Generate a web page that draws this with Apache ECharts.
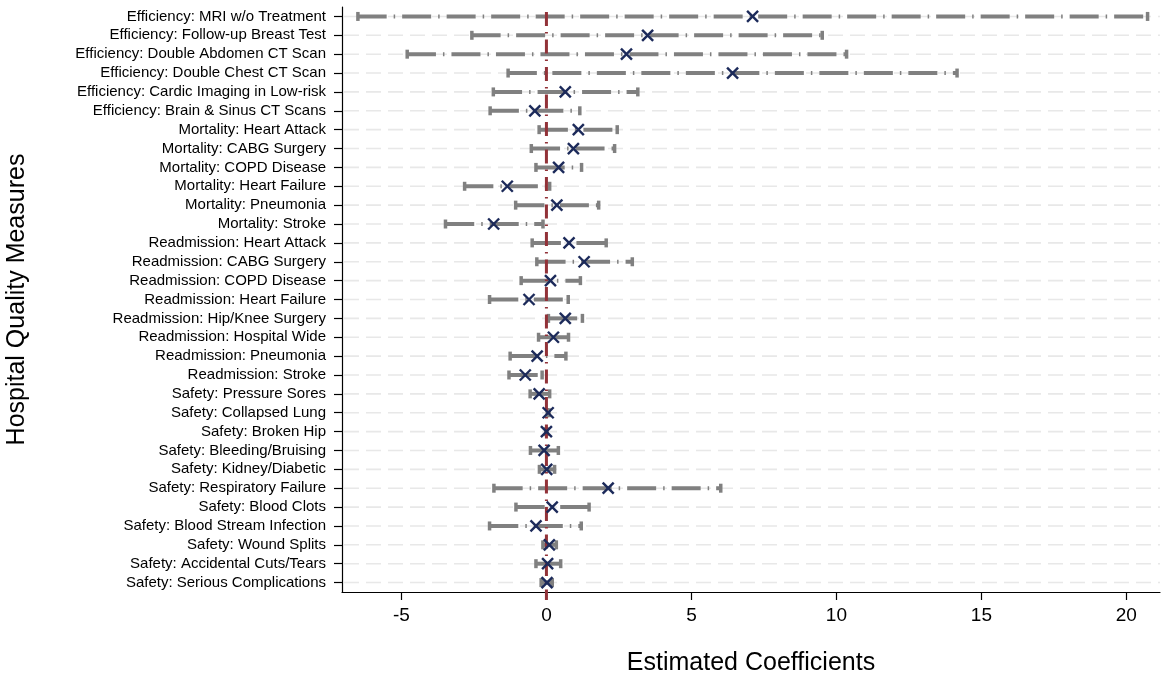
<!DOCTYPE html>
<html>
<head>
<meta charset="utf-8">
<script src="https://cdn.jsdelivr.net/npm/echarts@6/dist/echarts.min.js"></script>
<style>
html, body { margin: 0; padding: 0; background: #fff; }
#container { width: 1161px; height: 677px; }
</style>
</head>
<body>
<div id="container"></div>
<script>
var measures = [
    'Efficiency: MRI w/o Treatment',
    'Efficiency: Follow-up Breast Test',
    'Efficiency: Double Abdomen CT Scan',
    'Efficiency: Double Chest CT Scan',
    'Efficiency: Cardic Imaging in Low-risk',
    'Efficiency: Brain & Sinus CT Scans',
    'Mortality: Heart Attack',
    'Mortality: CABG Surgery',
    'Mortality: COPD Disease',
    'Mortality: Heart Failure',
    'Mortality: Pneumonia',
    'Mortality: Stroke',
    'Readmission: Heart Attack',
    'Readmission: CABG Surgery',
    'Readmission: COPD Disease',
    'Readmission: Heart Failure',
    'Readmission: Hip/Knee Surgery',
    'Readmission: Hospital Wide',
    'Readmission: Pneumonia',
    'Readmission: Stroke',
    'Safety: Pressure Sores',
    'Safety: Collapsed Lung',
    'Safety: Broken Hip',
    'Safety: Bleeding/Bruising',
    'Safety: Kidney/Diabetic',
    'Safety: Respiratory Failure',
    'Safety: Blood Clots',
    'Safety: Blood Stream Infection',
    'Safety: Wound Splits',
    'Safety: Accidental Cuts/Tears',
    'Safety: Serious Complications'
];
// point estimates
var coef = [7.11, 3.49, 2.76, 6.42, 0.65, -0.40, 1.10, 0.93, 0.42, -1.35, 0.36, -1.82,
    0.78, 1.30, 0.14, -0.60, 0.65, 0.24, -0.32, -0.73,
    -0.25, 0.06, 0.00, -0.08, 0.01, 2.13, 0.20, -0.36, 0.10, 0.04, 0.02];
// confidence interval ends
var lower = [-6.51, -2.58, -4.81, -1.33, -1.84, -1.95, -0.26, -0.53, -0.37, -2.83, -1.07, -3.49,
    -0.50, -0.34, -0.88, -1.97, 0.06, -0.28, -1.26, -1.30,
    -0.57, 0.02, -0.03, -0.56, -0.25, -1.82, -1.06, -1.97, -0.13, -0.37, -0.19];
var upper = [20.74, 9.52, 10.36, 14.17, 3.16, 1.16, 2.45, 2.36, 1.22, 0.12, 1.81, -0.11,
    2.07, 2.97, 1.18, 0.76, 1.25, 0.77, 0.68, -0.14,
    0.12, 0.10, 0.03, 0.42, 0.29, 6.02, 1.48, 1.21, 0.35, 0.50, 0.21];
var xTicks = [-5, 0, 5, 10, 15, 20];
var zeroRef = 0;

var font = 'Liberation Sans, Arial, sans-serif';
var rows = [];
measures.forEach(function (m, i) {
    rows.push([i, lower[i], coef[i], upper[i]]);
});

var dom = document.getElementById('container');
var myChart = echarts.init(dom);

var option = {
    animation: false,
    grid: { left: 342, right: 1, top: 7, bottom: 85, containLabel: false, outerBoundsMode: 'none' },
    xAxis: {
        type: 'value',
        min: -7.05,
        max: 21.16,
        axisLine: { show: true, onZero: false, lineStyle: { color: '#000', width: 1.2 } },
        axisTick: { show: true, customValues: xTicks, length: 8, lineStyle: { color: '#000', width: 1.2 } },
        axisLabel: { customValues: xTicks, color: '#000', fontSize: 19, fontFamily: font, margin: 14 },
        splitLine: { show: false },
        name: 'Estimated Coefficients',
        nameLocation: 'middle',
        nameGap: 59,
        nameTextStyle: { color: '#000', fontSize: 25, fontFamily: font }
    },
    yAxis: {
        type: 'category',
        data: measures,
        inverse: true,
        axisLine: { show: true, onZero: false, lineStyle: { color: '#000', width: 1.2 } },
        axisTick: { show: true, alignWithLabel: true, interval: 0, length: 8, lineStyle: { color: '#000', width: 1.2 } },
        axisLabel: { interval: 0, color: '#000', fontSize: 15, fontFamily: font, margin: 16 },
        splitLine: { show: false },
        name: 'Hospital Quality Measures',
        nameLocation: 'middle',
        nameGap: 312,
        nameRotate: 90,
        nameTextStyle: { color: '#000', fontSize: 25, fontFamily: font }
    },
    series: [
        {
            // light dashed row lines
            type: 'custom',
            silent: true,
            data: rows,
            encode: { y: 0, x: 2 },
            renderItem: function (params, api) {
                var cs = params.coordSys;
                var y = api.coord([0, api.value(0)])[1];
                return {
                    type: 'line',
                    shape: { x1: cs.x + 2, y1: y, x2: cs.x + cs.width, y2: y },
                    style: { stroke: '#e8e8e8', lineWidth: 1.6, lineDash: [15, 7] }
                };
            }
        },
        {
            // confidence intervals
            type: 'custom',
            silent: true,
            data: rows,
            encode: { y: 0, x: [1, 2, 3] },
            renderItem: function (params, api) {
                var idx = api.value(0);
                var p1 = api.coord([api.value(1), idx]);
                var p2 = api.coord([api.value(3), idx]);
                var col = '#808080';
                return {
                    type: 'group',
                    children: [
                        {
                            type: 'line',
                            shape: { x1: p1[0], y1: p1[1], x2: p2[0], y2: p2[1] },
                            style: { stroke: col, lineWidth: 4, lineDash: [29, 7, 1.5, 7], lineCap: 'butt' }
                        },
                        {
                            type: 'rect',
                            shape: { x: p1[0] - 1.5, y: p1[1] - 4.5, width: 3.5, height: 9 },
                            style: { fill: col }
                        },
                        {
                            type: 'rect',
                            shape: { x: p2[0] - 2, y: p2[1] - 4.5, width: 3.5, height: 9 },
                            style: { fill: col }
                        }
                    ]
                };
            }
        },
        {
            // zero reference line
            type: 'custom',
            silent: true,
            data: [[zeroRef]],
            encode: { x: 0 },
            renderItem: function (params, api) {
                var cs = params.coordSys;
                var x = api.coord([api.value(0), 0])[0];
                return {
                    type: 'line',
                    shape: { x1: x, y1: cs.y + 5, x2: x, y2: cs.y + cs.height + 8 },
                    style: { stroke: '#923238', lineWidth: 3, lineDash: [14, 6, 1.5, 6] }
                };
            }
        },
        {
            // point estimates
            type: 'custom',
            silent: true,
            data: rows,
            encode: { y: 0, x: 2 },
            renderItem: function (params, api) {
                var p = api.coord([api.value(2), api.value(0)]);
                var h = 5.5;
                var st = { stroke: '#1c2a5a', lineWidth: 2.4 };
                return {
                    type: 'group',
                    children: [
                        { type: 'line', shape: { x1: p[0] - h, y1: p[1] - h, x2: p[0] + h, y2: p[1] + h }, style: st },
                        { type: 'line', shape: { x1: p[0] - h, y1: p[1] + h, x2: p[0] + h, y2: p[1] - h }, style: st }
                    ]
                };
            }
        }
    ]
};
myChart.setOption(option, true);
</script>
</body>
</html>
